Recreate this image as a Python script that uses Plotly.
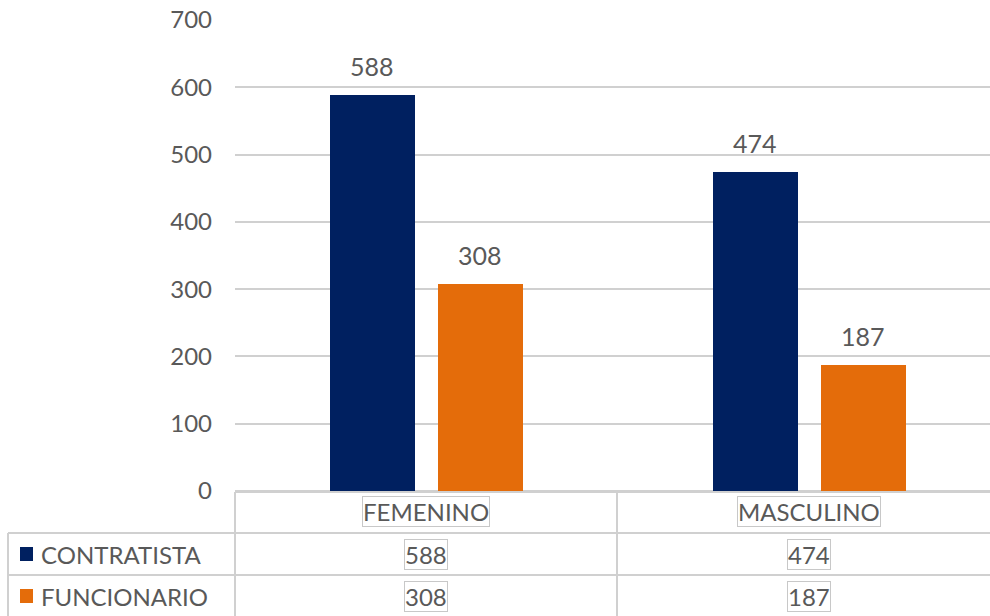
import plotly.graph_objects as go

# Datos
categorias = ["FEMENINO", "MASCULINO"]
series = ["CONTRATISTA", "FUNCIONARIO"]
contratista = [588, 474]
funcionario = [308, 187]
y_ticks = [0, 100, 200, 300, 400, 500, 600, 700]

colores = ["#002060", "#E46C0A"]
valores = [contratista, funcionario]

FONT = "Lato, Century Gothic, DejaVu Sans, sans-serif"
GRIS_TXT = "#595959"
GRIS_LIN = "#D0D0D0"

W, H = 990, 616
L, R, T, B = 235, 990, 20, 491  # plot area in pixels

BAR_W = 0.222
offsets = [-0.2507, 0.0313]


def xp(px):
    return (px - L) / (R - L)


def yp(py):
    return (B - py) / (B - T)


fig = go.Figure()
annotations = []
for nombre, vals, color, off in zip(series, valores, colores, offsets):
    xs = list(range(len(categorias)))
    fig.add_trace(go.Bar(
        x=xs, y=vals, name=nombre,
        marker=dict(color=color, line=dict(width=0)),
        width=BAR_W, offset=off, showlegend=False,
    ))
    # value labels above each bar
    for x, v in zip(xs, vals):
        annotations.append(dict(x=x + off + BAR_W / 2, y=v, xref="x", yref="y",
                                text=str(v), showarrow=False, yanchor="bottom", yshift=12,
                                font=dict(family=FONT, size=25, color=GRIS_TXT)))

shapes = []
line = dict(color=GRIS_LIN, width=2)
# data table grid
shapes.append(dict(type="line", xref="paper", yref="paper", x0=xp(235), x1=xp(990), y0=yp(492), y1=yp(492), line=line))
for py in (533, 575):
    shapes.append(dict(type="line", xref="paper", yref="paper", x0=xp(8), x1=xp(990), y0=yp(py), y1=yp(py), line=line))
shapes.append(dict(type="line", xref="paper", yref="paper", x0=xp(235), x1=xp(235), y0=yp(492), y1=yp(620), line=line))
shapes.append(dict(type="line", xref="paper", yref="paper", x0=xp(617), x1=xp(617), y0=yp(492), y1=yp(620), line=line))
shapes.append(dict(type="line", xref="paper", yref="paper", x0=xp(8), x1=xp(8), y0=yp(533), y1=yp(620), line=line))

box = dict(bordercolor="#C8C8C8", borderwidth=1, borderpad=0)
for i, cat in enumerate(categorias):
    annotations.append(dict(x=i, y=yp(511), xref="x", yref="paper", text=cat, showarrow=False,
                            yanchor="middle", xanchor="center",
                            font=dict(family=FONT, size=24, color=GRIS_TXT), **box))
row_y = [554, 596]
for r, (nombre, vals, color) in enumerate(zip(series, valores, colores)):
    cy = row_y[r]
    shapes.append(dict(type="rect", xref="paper", yref="paper", x0=xp(20), x1=xp(33),
                       y0=yp(cy + 7), y1=yp(cy - 7), fillcolor=color, line=dict(width=0)))
    annotations.append(dict(x=xp(39), y=yp(cy), xref="paper", yref="paper", text=nombre,
                            xanchor="left", yanchor="middle", showarrow=False,
                            font=dict(family=FONT, size=24, color=GRIS_TXT)))
    for i, v in enumerate(vals):
        annotations.append(dict(x=i, y=yp(cy), xref="x", yref="paper", text=str(v), showarrow=False,
                                yanchor="middle", xanchor="center",
                                font=dict(family=FONT, size=24, color=GRIS_TXT), **box))

fig.update_layout(
    width=W, height=H,
    margin=dict(l=L, r=W - R, t=T, b=H - B, pad=0),
    plot_bgcolor="white", paper_bgcolor="white",
    bargap=0, shapes=shapes, annotations=annotations,
    xaxis=dict(range=[-0.4987, 1.473], showticklabels=False, showgrid=False,
               zeroline=False, showline=False, ticks=""),
    yaxis=dict(range=[0, 700], tickvals=y_ticks, showgrid=True, gridcolor=GRIS_LIN, gridwidth=2,
               zeroline=True, zerolinecolor=GRIS_LIN, zerolinewidth=2, showline=False,
               tickfont=dict(family=FONT, size=24, color=GRIS_TXT), ticklabelstandoff=22),
)

fig.write_html("out.html")
